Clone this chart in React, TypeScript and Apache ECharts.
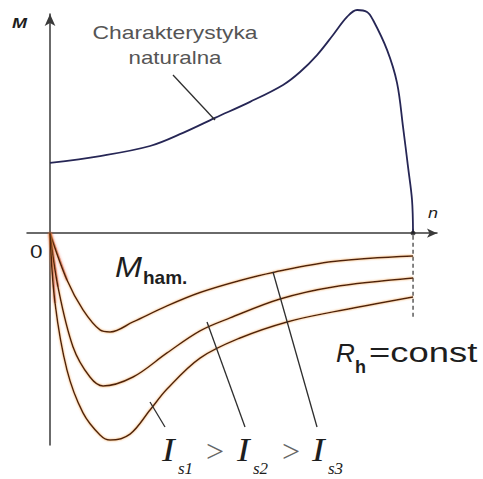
import React, { useEffect, useRef } from "react";
import * as echarts from "echarts";

// Rotational speed n (synchronous speed n0 = 100) and torque M (breakdown torque = 100)
const naturalN = [0, 13.77, 27.55, 36.64, 45.45, 55.1, 64.19, 68.87, 73.55, 77.96, 81.82, 84.57, 87.33, 88.98, 92.84, 95.59, 97.25, 98.62, 99.72, 100];
const naturalM = [31.5, 34.6, 39.1, 45.0, 51.7, 58.9, 66.5, 72.3, 79.9, 88.9, 97.0, 100.1, 99.2, 95.6, 82.2, 67.4, 47.6, 29.7, 14.9, 0];

// Braking torque M_ham for three excitation currents Is1 > Is2 > Is3
const brake1N = [0, 4.68, 9.09, 13.77, 16.53, 22.87, 32.23, 41.32, 52.34, 61.43, 77.96, 100];
const brake1M = [0, -21.0, -34.4, -43.4, -44.3, -39.8, -32.6, -26.6, -21.2, -17.6, -12.7, -10.2];

const brake2N = [0, 2.2, 6.34, 11.0, 14.6, 22.87, 32.23, 41.32, 49.59, 63.36, 77.96, 100];
const brake2M = [0, -24.1, -51.0, -64.5, -68.5, -64.5, -53.7, -43.8, -38.0, -29.5, -24.1, -20.1];

const brake3N = [0, 1.38, 4.68, 9.09, 13.77, 16.53, 22.04, 27.55, 32.23, 41.32, 52.34, 65.29, 77.96, 100];
const brake3M = [0, -31.3, -61.4, -80.6, -90.5, -92.8, -90.1, -79.3, -69.9, -56.0, -47.0, -39.8, -35.3, -28.6];

const syncN = 100;
const syncDashM = [2, -37.7];

const zip = (xs: number[], ys: number[]) => xs.map((x, i) => [x, ys[i]]);

const AXIS = "#3a3a3a";
const BRAKE = "#4d2410";
const SANS = "'Liberation Sans', Arial, sans-serif";
const SERIF = "'Liberation Serif', 'Times New Roman', serif";

function label(
  text: string,
  x: number,
  y: number,
  font: string,
  size: number,
  opts: { style?: string; weight?: string; fill?: string; scaleX?: number; align?: string } = {}
) {
  return {
    type: "text",
    x,
    y,
    scaleX: opts.scaleX ?? 1,
    style: {
      text,
      fontFamily: font,
      fontSize: size,
      fontStyle: opts.style ?? "normal",
      fontWeight: opts.weight ?? "normal",
      fill: opts.fill ?? "#1e1e1e",
      align: opts.align ?? "left",
      verticalAlign: "middle",
    },
    z: 10,
  };
}

function leader(x1: number, y1: number, x2: number, y2: number) {
  return {
    type: "line",
    shape: { x1, y1, x2, y2 },
    style: { stroke: "#2e2e2e", lineWidth: 1.3 },
    z: 5,
  };
}

export default function App() {
  const ref = useRef<HTMLDivElement>(null);

  useEffect(() => {
    if (!ref.current) return;
    const chart = echarts.init(ref.current, undefined, { renderer: "svg" });

    const brakeStyle = {
      color: BRAKE,
      width: 1.5,
      shadowColor: "rgba(240,150,60,0.85)",
      shadowBlur: 2.5,
    };

    const brakeSeries = [
      zip(brake1N, brake1M),
      zip(brake2N, brake2M),
      zip(brake3N, brake3M),
    ].map((data, i) => ({
      name: "Is" + (i + 1),
      type: "line",
      data,
      smooth: 0.35,
      showSymbol: false,
      clip: false,
      lineStyle: brakeStyle,
      z: 3,
    }));

    // reddish tint where the braking curves leave the origin
    const glowSeries = [
      [brake1N, brake1M],
      [brake2N, brake2M],
      [brake3N, brake3M],
    ].map(([xs, ys], i) => ({
      name: "glow" + (i + 1),
      type: "line",
      data: zip(xs.slice(0, 2), ys.slice(0, 2)),
      showSymbol: false,
      clip: false,
      lineStyle: {
        color: "rgba(185,25,25,0.5)",
        width: 2.2,
        shadowColor: "rgba(210,40,40,0.6)",
        shadowBlur: 3,
      },
      z: 2,
    }));

    chart.setOption({
      animation: false,
      backgroundColor: "#ffffff",
      grid: { left: 27, right: 46, top: 14, bottom: 34, containLabel: false },
      xAxis: {
        type: "value",
        min: -6.34,
        max: 106.6,
        axisLine: {
          onZero: true,
          symbol: ["none", "arrow"],
          symbolSize: [7, 10],
          lineStyle: { color: AXIS, width: 1.5 },
        },
        axisTick: { show: false },
        axisLabel: { show: false },
        splitLine: { show: false },
      },
      yAxis: {
        type: "value",
        min: -95,
        max: 98.3,
        axisLine: {
          onZero: true,
          symbol: ["none", "arrow"],
          symbolSize: [8, 12],
          lineStyle: { color: AXIS, width: 1.5 },
        },
        axisTick: { show: false },
        axisLabel: { show: false },
        splitLine: { show: false },
      },
      series: [
        {
          name: "Charakterystyka naturalna",
          type: "line",
          data: zip(naturalN, naturalM),
          smooth: 0.35,
          showSymbol: false,
          clip: false,
          lineStyle: { color: "#262655", width: 1.8 },
          z: 3,
        },
        ...glowSeries,
        ...brakeSeries,
        {
          name: "n0",
          type: "line",
          data: syncDashM.map((m) => [syncN, m]),
          showSymbol: false,
          clip: false,
          lineStyle: { color: "#333", width: 1.2, type: [4, 3] },
          z: 2,
        },
        {
          name: "n0 point",
          type: "scatter",
          data: [[syncN, 0]],
          symbolSize: 5,
          itemStyle: { color: "#222" },
          z: 4,
        },
      ],
      graphic: [
        label("M", 12, 23, SANS, 15, { style: "italic", weight: "bold", scaleX: 1.2 }),
        label("n", 428, 213, SANS, 15, { style: "italic", scaleX: 1.2 }),
        label("0", 30, 252, SANS, 18, { scaleX: 1.25 }),
        label("Charakterystyka", 175, 32, SANS, 18, { fill: "#555", align: "center", scaleX: 1.27 }),
        label("naturalna", 175, 58, SANS, 18, { fill: "#555", align: "center", scaleX: 1.24 }),
        label("M", 115, 267, SANS, 30, { style: "italic", scaleX: 1.08 }),
        label("ham.", 143, 277, SANS, 19, { weight: "bold" }),
        label("R", 336, 353, SANS, 26, { style: "italic" }),
        label("h", 355, 367, SANS, 18, { weight: "bold" }),
        label("=const", 369, 353, SANS, 28, { scaleX: 1.3 }),
        label("I", 162, 450, SERIF, 33, { style: "italic", scaleX: 1.15 }),
        label("s1", 178, 468, SERIF, 17, { style: "italic" }),
        label(">", 206, 451, SERIF, 32, { fill: "#666" }),
        label("I", 237, 450, SERIF, 33, { style: "italic", scaleX: 1.15 }),
        label("s2", 253, 468, SERIF, 17, { style: "italic" }),
        label(">", 282, 451, SERIF, 32, { fill: "#666" }),
        label("I", 312, 450, SERIF, 33, { style: "italic", scaleX: 1.15 }),
        label("s3", 328, 468, SERIF, 17, { style: "italic" }),
        leader(173, 75, 215, 120),
        leader(150, 402, 165, 427),
        leader(207, 322, 245, 427),
        leader(273, 272, 317, 427),
      ],
    });

    return () => chart.dispose();
  }, []);

  return (
    <div
      ref={ref}
      style={{ position: "fixed", left: 0, top: 0, width: 483, height: 479, background: "#fff" }}
    />
  );
}
